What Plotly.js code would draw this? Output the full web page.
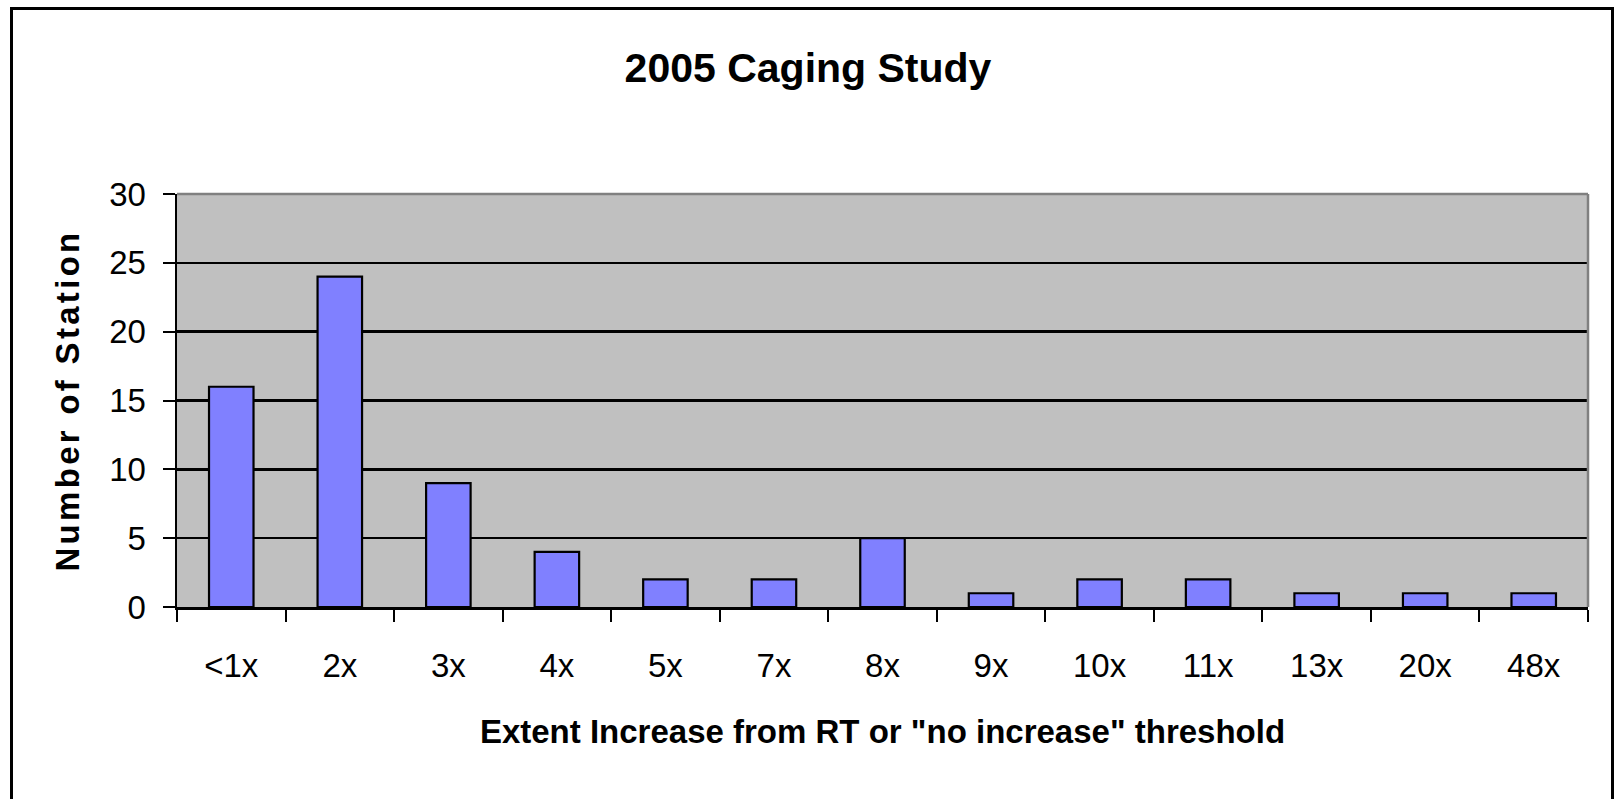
<!DOCTYPE html>
<html>
<head>
<meta charset="utf-8">
<script src="https://cdn.plot.ly/plotly-3.0.1.min.js"></script>
<style>
  html, body { margin: 0; padding: 0; background: #ffffff; overflow: hidden; }
  #wrap { position: relative; width: 1616px; height: 799px; }
  #chart { position: absolute; left: 0; top: 0; width: 1616px; height: 799px; }
  #frame { position: absolute; left: 10px; top: 7px; width: 1604px; height: 840px;
           border: 3px solid #000; box-sizing: border-box; pointer-events: none; }
  .ytitle { letter-spacing: 3.3px; }
</style>
</head>
<body>
<div id="wrap">
  <div id="chart"></div>
  <div id="frame"></div>
</div>
<script>
const categories = ["<1x", "2x", "3x", "4x", "5x", "7x", "8x", "9x", "10x", "11x", "13x", "20x", "48x"];
const stations = [16, 24, 9, 4, 2, 2, 5, 1, 2, 2, 1, 1, 1];
const yTicks = [0, 5, 10, 15, 20, 25, 30];

const FONT = "Liberation Sans, Arial, sans-serif";

const trace = {
  type: "bar",
  x: categories,
  y: stations,
  marker: { color: "#8080ff", line: { color: "#000000", width: 2.2 } },
  hoverinfo: "x+y"
};

const layout = {
  width: 1616,
  height: 799,
  margin: { l: 177, r: 28, t: 194, b: 192, pad: 0 },
  paper_bgcolor: "#ffffff",
  plot_bgcolor: "#c0c0c0",
  showlegend: false,
  bargap: 0.59,
  font: { family: FONT, color: "#000000" },
  title: {
    text: "<b>2005 Caging Study</b>",
    font: { family: FONT, size: 41, color: "#000000" },
    x: 0.5, xref: "container", xanchor: "center",
    y: 1 - 68 / 799, yref: "container", yanchor: "middle"
  },
  xaxis: {
    type: "category",
    tickson: "boundaries",
    ticks: "outside",
    ticklen: 12,
    tickwidth: 2,
    tickcolor: "#000000",
    ticklabelstandoff: 27,
    tickfont: { family: FONT, size: 33, color: "#000000" },
    showline: true,
    linecolor: "#000000",
    linewidth: 3,
    showgrid: false,
    zeroline: false,
    automargin: false,
    title: {
      text: "<b>Extent Increase from RT or \"no increase\" threshold</b>",
      font: { family: FONT, size: 33, color: "#000000" },
      standoff: 38
    }
  },
  yaxis: {
    range: [0, 30],
    tickvals: yTicks,
    ticktext: yTicks.map(String),
    ticks: "outside",
    ticklen: 12,
    tickwidth: 2,
    tickcolor: "#000000",
    ticklabelstandoff: 10,
    tickfont: { family: FONT, size: 33, color: "#000000" },
    showline: true,
    linecolor: "#000000",
    linewidth: 2.5,
    showgrid: true,
    gridcolor: "#000000",
    gridwidth: 2.5,
    zeroline: false,
    automargin: false,
    title: {
      text: "<b>Number of Station</b>",
      font: { family: FONT, size: 33, color: "#000000" },
      standoff: 20
    }
  },
  shapes: [
    { type: "line", xref: "paper", yref: "paper", x0: 0, x1: 1, y0: 1, y1: 1,
      line: { color: "#808080", width: 2.5 }, layer: "above" },
    { type: "line", xref: "paper", yref: "paper", x0: 1, x1: 1, y0: 0, y1: 1,
      line: { color: "#808080", width: 2.5 }, layer: "above" }
  ]
};

Plotly.newPlot("chart", [trace], layout, { displayModeBar: false, staticPlot: true });
</script>
</body>
</html>
